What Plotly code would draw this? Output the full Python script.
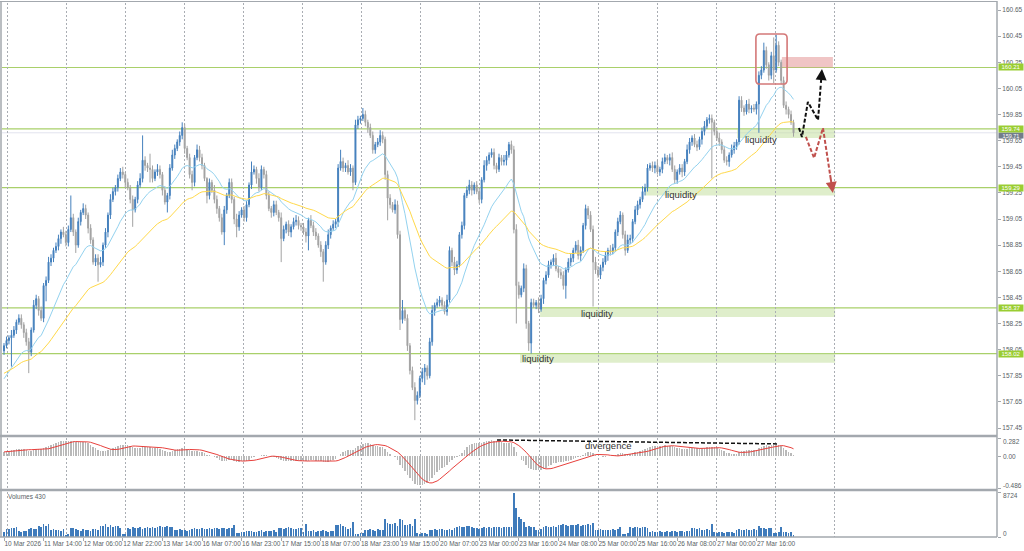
import plotly.graph_objects as go

W, H = 1024, 551

title_text = "USDJPY,H1  159.79 159.81 159.68 159.71"
macd_text = "MACD(12,26,9) 0.0457 0.0510"
volume_text = "Volumes 430"

first_open = 158.04
closes = [
    158.08, 158.12, 158.14, 158.16, 158.20, 158.26, 158.29, 158.24, 158.18, 158.11,
    158.03, 158.20, 158.39, 158.44, 158.35, 158.29, 158.54, 158.58, 158.72, 158.75,
    158.81, 158.84, 158.90, 158.95, 158.93, 158.87, 158.97, 159.06, 158.95, 158.85,
    159.03, 159.10, 159.13, 159.08, 158.98, 158.89, 158.72, 158.75, 158.70, 158.72,
    158.85, 158.95, 159.08, 159.20, 159.26, 159.29, 159.36, 159.41, 159.39, 159.33,
    159.29, 159.20, 159.12, 159.20, 159.31, 159.36, 159.50, 159.46, 159.44, 159.43,
    159.36, 159.41, 159.43, 159.39, 159.27, 159.18, 159.23, 159.44, 159.54, 159.59,
    159.64, 159.69, 159.75, 159.59, 159.52, 159.39, 159.33, 159.52, 159.58, 159.52,
    159.46, 159.36, 159.23, 159.33, 159.27, 159.20, 159.13, 159.06, 158.95, 159.12,
    159.23, 159.33, 159.20, 159.05, 158.99, 159.08, 159.12, 159.06, 159.16, 159.31,
    159.41, 159.43, 159.36, 159.29, 159.43, 159.39, 159.23, 159.13, 159.10, 159.16,
    159.10, 159.06, 158.90, 158.97, 159.01, 158.95, 158.99, 159.03, 159.04, 159.00,
    158.99, 158.95, 158.92, 159.04, 159.00, 158.95, 158.92, 158.85, 158.80, 158.72,
    158.85, 158.93, 158.98, 159.01, 159.03, 159.44, 159.49, 159.44, 159.46, 159.41,
    159.44, 159.33, 159.77, 159.81, 159.82, 159.85, 159.79, 159.75, 159.69, 159.58,
    159.62, 159.64, 159.69, 159.66, 159.39, 159.21, 159.16, 159.12, 159.16, 158.93,
    158.28, 158.35, 158.29, 158.08, 157.89, 157.76, 157.66, 157.70, 157.83, 157.88,
    157.91, 157.85, 158.11, 158.35, 158.39, 158.41, 158.43, 158.39, 158.34, 158.43,
    158.81, 158.72, 158.66, 158.70, 158.93, 159.00, 159.23, 159.27, 159.31, 159.27,
    159.31, 159.26, 159.20, 159.35, 159.46, 159.50, 159.54, 159.56, 159.46, 159.43,
    159.52, 159.49, 159.50, 159.54, 159.62, 159.58, 158.97, 158.54, 158.47, 158.52,
    158.67, 158.25, 158.10, 158.41, 158.39, 158.41, 158.36, 158.44, 158.58, 158.62,
    158.70, 158.72, 158.75, 158.67, 158.64, 158.62, 158.54, 158.66, 158.72, 158.75,
    158.81, 158.85, 158.77, 158.81, 159.00, 159.13, 159.08, 158.97, 158.72, 158.66,
    158.62, 158.68, 158.72, 158.77, 158.81, 158.80, 158.83, 158.95, 159.03, 159.08,
    158.93, 158.81, 158.89, 158.90, 159.03, 159.12, 159.16, 159.20, 159.26, 159.29,
    159.44, 159.46, 159.44, 159.46, 159.41, 159.43, 159.49, 159.52, 159.50, 159.52,
    159.43, 159.35, 159.41, 159.44, 159.41, 159.49, 159.58, 159.64, 159.67, 159.62,
    159.60, 159.66, 159.72, 159.76, 159.81, 159.82, 159.79, 159.72, 159.67, 159.64,
    159.58, 159.50, 159.49, 159.54, 159.58, 159.61, 159.64, 159.96, 159.90, 159.87,
    159.93, 159.89, 159.90, 159.89, 159.93, 160.15, 160.19, 160.34, 160.23, 160.15,
    160.30, 160.19, 160.38, 160.25, 160.11, 159.92, 159.89, 159.85, 159.79, 159.71,
]
upper_wick_pips = [
    2, 3, 2, 4, 3, 2, 3, 3, 2, 3,
    3, 2, 4, 3, 2, 3, 2, 3, 4, 3,
    2, 3, 3, 2, 4, 3, 3, 17, 3, 2,
    3, 2, 4, 3, 2, 3, 2, 3, 3, 4,
    2, 3, 2, 4, 3, 2, 3, 3, 4, 2,
    3, 2, 3, 2, 3, 4, 19, 3, 2, 11,
    3, 2, 4, 3, 2, 3, 2, 3, 4, 3,
    2, 3, 4, 3, 2, 3, 3, 2, 4, 3,
    3, 2, 1, 3, 2, 4, 3, 2, 3, 3,
    2, 3, 3, 2, 4, 3, 2, 3, 3, 2,
    8, 3, 2, 4, 3, 2, 3, 3, 2, 3,
    3, 2, 4, 3, 2, 3, 2, 3, 4, 3,
    2, 3, 3, 2, 4, 3, 3, 2, 3, 2,
    3, 4, 2, 3, 2, 3, 9, 3, 2, 4,
    3, 2, 4, 3, 2, 5, 3, 2, 3, 3,
    2, 3, 4, 3, 2, 3, 3, 2, 4, 3,
    3, 8, 2, 3, 2, 3, 4, 3, 2, 3,
    3, 2, 3, 4, 2, 3, 3, 2, 3, 4,
    3, 2, 4, 3, 2, 3, 2, 3, 4, 3,
    2, 3, 3, 2, 4, 3, 2, 3, 3, 2,
    3, 2, 4, 3, 2, 3, 3, 4, 3, 2,
    4, 3, 2, 3, 3, 2, 4, 3, 2, 3,
    3, 2, 3, 4, 2, 3, 3, 2, 3, 4,
    2, 3, 4, 3, 2, 3, 2, 3, 3, 4,
    3, 2, 3, 3, 2, 4, 3, 2, 3, 3,
    2, 3, 4, 3, 2, 3, 3, 2, 4, 3,
    3, 2, 3, 3, 4, 2, 3, 3, 2, 3,
    4, 3, 2, 3, 3, 2, 4, 3, 2, 3,
    3, 2, 3, 4, 2, 3, 3, 2, 3, 4,
    2, 3, 3, 2, 4, 3, 2, 3, 3, 2,
    3, 4, 2, 3, 2, 3, 3, 6, 3, 2,
    3, 14, 8, 3, 2, 3, 3, 2, 3, 2,
]
lower_wick_pips = [
    3, 2, 3, 22, 2, 3, 2, 3, 4, 3,
    16, 3, 2, 3, 4, 2, 3, 12, 2, 3,
    3, 2, 3, 4, 2, 3, 3, 2, 3, 6,
    2, 3, 2, 3, 4, 3, 2, 3, 13, 2,
    3, 2, 4, 3, 2, 3, 3, 2, 3, 4,
    2, 3, 13, 2, 3, 2, 3, 4, 3, 10,
    3, 2, 3, 3, 4, 2, 8, 3, 2, 3,
    2, 3, 3, 4, 2, 3, 6, 3, 2, 3,
    3, 2, 6, 3, 2, 3, 4, 3, 2, 10,
    3, 2, 3, 4, 8, 3, 2, 3, 3, 2,
    3, 2, 4, 3, 2, 3, 3, 2, 4, 3,
    2, 3, 18, 2, 3, 3, 4, 2, 3, 3,
    3, 2, 5, 11, 2, 3, 3, 2, 4, 15,
    2, 3, 3, 2, 3, 4, 2, 3, 3, 2,
    3, 6, 2, 3, 3, 2, 3, 4, 2, 3,
    3, 2, 3, 3, 4, 17, 3, 2, 3, 3,
    8, 3, 2, 4, 3, 2, 15, 3, 2, 3,
    10, 3, 2, 3, 4, 2, 3, 3, 2, 3,
    2, 3, 4, 3, 2, 3, 3, 2, 3, 4,
    3, 2, 3, 3, 2, 4, 3, 2, 3, 3,
    2, 3, 3, 4, 2, 3, 3, 29, 3, 2,
    3, 4, 6, 8, 2, 3, 3, 2, 4, 3,
    2, 3, 3, 2, 4, 3, 3, 10, 2, 3,
    3, 2, 3, 4, 2, 3, 3, 2, 34, 3,
    2, 3, 3, 2, 4, 3, 2, 3, 3, 2,
    3, 4, 2, 3, 3, 2, 4, 3, 2, 3,
    3, 2, 3, 4, 2, 3, 3, 2, 3, 4,
    2, 3, 3, 2, 4, 3, 2, 3, 3, 2,
    3, 2, 4, 3, 2, 3, 43, 3, 2, 3,
    3, 2, 3, 4, 2, 3, 3, 2, 3, 3,
    2, 3, 3, 2, 4, 22, 3, 2, 3, 4,
    3, 10, 2, 3, 3, 2, 4, 3, 2, 3,
]
volumes = [
    900, 1600, 1500, 1700, 1650, 1870, 1100, 1000, 1200, 1100,
    1600, 1700, 1500, 1600, 2200, 2000, 2450, 2100, 2500, 1400,
    1500, 1300, 1400, 1200, 1500, 450, 500, 1700, 1800, 1600,
    1400, 1200, 1500, 1300, 1400, 1100, 1500, 1600, 1300, 2200,
    2100, 2500, 2000, 2300, 1900, 2200, 2100, 1700, 600, 500,
    1800, 1600, 1900, 1700, 1800, 1900, 1600, 1700, 2000, 1800,
    1900, 1700, 2000, 2100, 1900, 2000, 2200, 1900, 2000, 1400,
    1300, 1500, 1400, 1300, 1200, 1400, 1600, 1700, 1500, 1600,
    1700, 1600, 1500, 1700, 1600, 1800, 1700, 1600, 1700, 1800,
    1600, 1700, 1800, 2300, 800, 700, 900, 1000, 1100, 1200,
    1100, 900, 1000, 1200, 1300, 1000, 1100, 1200, 1100, 1300,
    1000, 1700, 1800, 1600, 1700, 1900, 1800, 1600, 1500, 1700,
    1800, 1000, 2600, 1200, 1100, 1300, 1000, 1200, 1100, 1300,
    1200, 1000, 1100, 1200, 2400, 2300, 2500, 2200, 2000, 1600,
    1700, 3000, 600, 500, 700, 800, 1400, 1300, 1500, 1400,
    1200, 1500, 1400, 1300, 3400, 2700, 2600, 2500, 2800, 2200,
    3500, 3200, 2400, 2300, 2500, 2200, 3500, 700, 600, 800,
    700, 600, 1400, 1300, 1500, 1400, 1600, 1500, 1400, 1300,
    1500, 1400, 1800, 2000, 2100, 1900, 2000, 2200, 2100, 1900,
    1700, 1800, 1600, 1700, 1900, 1800, 1900, 1800, 1900, 2000,
    1900, 1800, 1900, 2000, 2000, 1900, 8500, 5600, 3900, 3500,
    3000, 2000, 2100, 1900, 2000, 1400, 1300, 1500, 2000, 2100,
    1900, 2000, 2100, 1900, 2400, 2300, 2500, 2400, 2200, 2300,
    2400, 2300, 2500, 2200, 2400, 2300, 2600, 2400, 2800, 1400,
    1300, 1500, 1400, 1300, 1400, 1300, 1500, 1400, 1600, 1900,
    500, 600, 700, 1900, 1800, 2000, 1900, 1800, 2000, 1900,
    1800, 1000, 1100, 900, 1000, 1200, 1000, 900, 1100, 1000,
    1200, 1100, 1000, 1200, 1100, 1000, 1100, 1200, 1700, 1800,
    1600, 1700, 1400, 1300, 1500, 1400, 2500, 900, 800, 1000,
    900, 800, 900, 1000, 900, 800, 1400, 1500, 1300, 1400,
    1500, 1300, 1400, 1500, 1400, 2200, 1700, 1800, 1600, 1700,
    1800, 800, 700, 900, 2000, 900, 1000, 800, 900, 430,
]

time_labels = [
    "10 Mar 2026", "11 Mar 14:00", "12 Mar 06:00", "12 Mar 22:00", "13 Mar 14:00",
    "16 Mar 07:00", "16 Mar 23:00", "17 Mar 15:00", "18 Mar 07:00", "18 Mar 23:00",
    "19 Mar 15:00", "20 Mar 07:00", "23 Mar 00:00", "23 Mar 16:00", "24 Mar 08:00",
    "25 Mar 00:00", "25 Mar 16:00", "26 Mar 08:00", "27 Mar 00:00", "27 Mar 16:00",
]
LABEL_STEP = 16

price_tick_values = [157.45, 157.65, 157.85, 158.05, 158.25, 158.45, 158.65, 158.85,
                     159.05, 159.25, 159.45, 159.65, 159.85, 160.05, 160.25, 160.45, 160.65]
level_lines = [160.21, 159.74, 159.29, 158.37, 158.02]
last_price = 159.71
macd_scale = [0.282, 0.00, -0.486]
macd_scale_text = ["0.282", "0.00", "-0.486"]
volume_scale = [8724, 0]

# moving averages / MACD settings (seeds = values at the left edge of the chart)
EMA_FAST, EMA_SLOW = 20, 50
ema_fast_seed, ema_slow_seed = 157.80, 157.86
macd_fast_seed, macd_slow_seed = 157.92, 157.86

# drawings (bar index, price)
liquidity_zones = [(296.2, 335.8, 159.74, 159.67), (259.0, 335.8, 159.29, 159.23),
                   (216.6, 335.8, 158.37, 158.30), (208.5, 335.8, 158.02, 157.95)]
liquidity_labels = [(305.9, 159.655), (273.7, 159.24), (239.6, 158.33), (215.8, 157.985)]
resistance_zone = (314.3, 334.9, 160.29, 160.21)
highlight_box = (303.8, 316.4, 160.083, 160.466)
black_path_x = [321.2, 322.4, 324.8, 328.9, 330.5]
black_path_y = [159.747, 159.678, 159.946, 159.808, 160.198]
red_path_x = [324.0, 327.3, 330.9, 334.9]
red_path_y = [159.678, 159.517, 159.747, 159.249]
divergence_x = [199.2, 312.7]
divergence_y = [0.252, 0.191]
divergence_label = (244.0, 0.16)

N = len(closes)
assert N == 320 and len(upper_wick_pips) == N and len(lower_wick_pips) == N and len(volumes) == N

bars = list(range(N))
opens = [first_open] + closes[:-1]
highs = [max(o, c) + u / 100 for o, c, u in zip(opens, closes, upper_wick_pips)]
lows = [min(o, c) - l / 100 for o, c, l in zip(opens, closes, lower_wick_pips)]


def ema(values, period, seed):
    a = 2.0 / (period + 1)
    out, e = [], seed
    for v in values:
        e = e + a * (v - e)
        out.append(e)
    return out


ma_fast = ema(closes, EMA_FAST, ema_fast_seed)
ma_slow = ema(closes, EMA_SLOW, ema_slow_seed)
e12 = ema(closes, 12, macd_fast_seed)
e26 = ema(closes, 26, macd_slow_seed)
macd = [a - b for a, b in zip(e12, e26)]
signal = [sum(macd[max(0, i - 8):i + 1]) / len(macd[max(0, i - 8):i + 1]) for i in range(N)]

# ---- layout geometry (pixels) ----
PLOT_L, PLOT_R = 2, 997
PX_PER_BAR, BAR0_X = 2.475, 4
X_RANGE = [(PLOT_L - BAR0_X) / PX_PER_BAR, (PLOT_R - BAR0_X) / PX_PER_BAR]
PRICE_TOP, PRICE_BOT = 3, 434
MACD_TOP, MACD_BOT = 438, 488
VOL_TOP, VOL_BOT = 492, 537
PX_PER_PRICE = 130.6
PRICE_RANGE = [157.45 - (PRICE_BOT - 428) / PX_PER_PRICE, 160.65 + (10 - PRICE_TOP) / PX_PER_PRICE]


def py(p):
    return 1 - p / H


def px(p):
    return p / W


FONT = "Liberation Sans, Arial, sans-serif"
AXIS_COLOR = "#5a5f66"
BORDER = "#a3a8ae"
BULL = "#4580bd"
BEAR = "#a2a2a2"
LEVEL = "#a9d06a"
ZONE = "rgba(196,224,160,0.55)"

grid_positions = [1.6 + 23.84 * k for k in range(15)]

fig = go.Figure()

fig.add_trace(go.Candlestick(
    x=bars, open=opens, high=highs, low=lows, close=closes,
    increasing=dict(line=dict(color=BULL, width=1), fillcolor=BULL),
    decreasing=dict(line=dict(color=BEAR, width=1), fillcolor=BEAR),
    whiskerwidth=0, xaxis="x", yaxis="y", showlegend=False, hoverinfo="skip"))
fig.add_trace(go.Scatter(x=bars, y=ma_fast, mode="lines", line=dict(color="#93d2ef", width=1),
                         xaxis="x", yaxis="y", showlegend=False, hoverinfo="skip"))
fig.add_trace(go.Scatter(x=bars, y=ma_slow, mode="lines", line=dict(color="#ffd94a", width=1),
                         xaxis="x", yaxis="y", showlegend=False, hoverinfo="skip"))

# forecast paths
for xs, ys, col in [(black_path_x, black_path_y, "#111111"), (red_path_x, red_path_y, "#c0504d")]:
    tail_x = xs[-1] - 0.3 * (xs[-1] - xs[-2])
    tail_y = ys[-1] - 0.3 * (ys[-1] - ys[-2])
    fig.add_trace(go.Scatter(x=xs[:-1] + [tail_x], y=ys[:-1] + [tail_y], mode="lines",
                             line=dict(color=col, width=2, dash="4px,2px"),
                             xaxis="x", yaxis="y", showlegend=False, hoverinfo="skip"))
    fig.add_annotation(x=xs[-1], y=ys[-1], ax=tail_x, ay=tail_y, xref="x", yref="y",
                       axref="x", ayref="y", text="", showarrow=True, arrowhead=2,
                       arrowsize=1.1, arrowwidth=2, arrowcolor=col, standoff=0)

# MACD
fig.add_trace(go.Bar(x=bars, y=macd, width=0.6, marker=dict(color="#b9b9b9", line=dict(width=0)),
                     xaxis="x2", yaxis="y2", showlegend=False, hoverinfo="skip"))
fig.add_trace(go.Scatter(x=bars, y=signal, mode="lines", line=dict(color="#e8403c", width=1),
                         xaxis="x2", yaxis="y2", showlegend=False, hoverinfo="skip"))
fig.add_trace(go.Scatter(x=divergence_x, y=divergence_y, mode="lines",
                         line=dict(color="#111111", width=1.5, dash="4px,2px"),
                         xaxis="x2", yaxis="y2", showlegend=False, hoverinfo="skip"))

# Volumes
fig.add_trace(go.Bar(x=bars, y=volumes, width=0.7, marker=dict(color="#3f7bbb", line=dict(width=0)),
                     xaxis="x3", yaxis="y3", showlegend=False, hoverinfo="skip"))

shapes = []
for x0, x1, y0, y1 in liquidity_zones:
    shapes.append(dict(type="rect", xref="x", yref="y", x0=x0, x1=x1, y0=y0, y1=y1,
                       fillcolor=ZONE, line=dict(width=0), layer="below"))
x0, x1, y0, y1 = resistance_zone
shapes.append(dict(type="rect", xref="x", yref="y", x0=x0, x1=x1, y0=y0, y1=y1,
                   fillcolor="rgba(228,150,150,0.55)", line=dict(width=0), layer="below"))
shapes.append(dict(type="line", xref="paper", yref="y", x0=px(PLOT_L), x1=px(PLOT_R),
                   y0=last_price, y1=last_price, line=dict(color="#e2e3ee", width=1), layer="below"))
for lv in level_lines:
    shapes.append(dict(type="line", xref="paper", yref="y", x0=px(PLOT_L), x1=px(PLOT_R),
                       y0=lv, y1=lv, line=dict(color=LEVEL, width=1.2), layer="below"))
# rounded highlight box
bx0, bx1, by0, by1 = highlight_box
rx, ry = 1.6, 0.03
path = (f"M {bx0+rx},{by1} L {bx1-rx},{by1} Q {bx1},{by1} {bx1},{by1-ry} L {bx1},{by0+ry} "
        f"Q {bx1},{by0} {bx1-rx},{by0} L {bx0+rx},{by0} Q {bx0},{by0} {bx0},{by0+ry} "
        f"L {bx0},{by1-ry} Q {bx0},{by1} {bx0+rx},{by1} Z")
shapes.append(dict(type="path", xref="x", yref="y", path=path,
                   line=dict(color="#d47878", width=1.6)))
# frame
shapes += [
    dict(type="line", xref="paper", yref="paper", x0=0, x1=px(PLOT_R), y0=py((PRICE_BOT + MACD_TOP) / 2),
         y1=py((PRICE_BOT + MACD_TOP) / 2), line=dict(color=BORDER, width=2.5)),
    dict(type="line", xref="paper", yref="paper", x0=0, x1=px(PLOT_R), y0=py((MACD_BOT + VOL_TOP) / 2),
         y1=py((MACD_BOT + VOL_TOP) / 2), line=dict(color=BORDER, width=2.5)),
    dict(type="line", xref="paper", yref="paper", x0=0, x1=px(PLOT_R), y0=py(VOL_BOT), y1=py(VOL_BOT),
         line=dict(color=BORDER, width=1.5)),
    dict(type="line", xref="paper", yref="paper", x0=0, x1=px(PLOT_R), y0=py(1.5), y1=py(1.5),
         line=dict(color=BORDER, width=1)),
    dict(type="line", xref="paper", yref="paper", x0=px(PLOT_R), x1=px(PLOT_R), y0=py(1), y1=py(VOL_BOT),
         line=dict(color=BORDER, width=1.5)),
    dict(type="line", xref="paper", yref="paper", x0=px(1), x1=px(1), y0=py(1), y1=py(VOL_BOT),
         line=dict(color=BORDER, width=1.5)),
]

small = dict(size=6.5, color=AXIS_COLOR, family=FONT)
annotations = [
    dict(x=px(6), y=py(7), xref="paper", yref="paper", text=title_text, showarrow=False,
         xanchor="left", yanchor="middle", font=small),
    dict(x=px(6), y=py(441), xref="paper", yref="paper", text=macd_text, showarrow=False,
         xanchor="left", yanchor="middle", font=small),
    dict(x=px(6), y=py(496), xref="paper", yref="paper", text=volume_text, showarrow=False,
         xanchor="left", yanchor="middle", font=small),
]
for (lx, ly) in liquidity_labels:
    annotations.append(dict(x=lx, y=ly, xref="x", yref="y", text="liquidity", showarrow=False,
                            font=dict(size=9.5, color="#333333", family=FONT)))
annotations.append(dict(x=divergence_label[0], y=divergence_label[1], xref="x2", yref="y2",
                        text="divergence", showarrow=False,
                        font=dict(size=9.5, color="#333333", family=FONT)))
# current price box (drawn first so the level box sits on top of it)
annotations.append(dict(x=px(998), y=py(131.8), xref="paper", yref="paper", text=f"{last_price:.2f}",
                        showarrow=False, xanchor="left", yanchor="top", bgcolor="#737d8a",
                        width=24, height=5, borderpad=0, valign="middle",
                        font=dict(size=5.5, color="white", family=FONT)))
for lv in level_lines:
    annotations.append(dict(x=px(998), y=lv, xref="paper", yref="y", text=f"{lv:.2f}", showarrow=False,
                            xanchor="left", yanchor="middle", bgcolor="#9acd32", width=24, height=6,
                            borderpad=0, valign="middle",
                            font=dict(size=6, color="white", family=FONT)))
macd_label_px = [441, 456, 485]
for t, yy in zip(macd_scale_text, macd_label_px):
    annotations.append(dict(x=px(1001), y=py(yy), xref="paper", yref="paper", text=t,
                            showarrow=False, xanchor="left", yanchor="middle", font=small))
vol_label_px = [495, 533]
for v, yy in zip(volume_scale, vol_label_px):
    annotations.append(dict(x=px(1001), y=py(yy), xref="paper", yref="paper", text=str(v),
                            showarrow=False, xanchor="left", yanchor="middle", font=small))

minor_grid = dict(tickmode="array", tickvals=grid_positions, showgrid=True, gridcolor="#a9adb3",
                  griddash="2px,2px", gridwidth=1, ticks="")
xdom = [px(PLOT_L), px(PLOT_R)]
common_x = dict(domain=xdom, range=X_RANGE, showgrid=False, zeroline=False, showline=False,
                minor=minor_grid, fixedrange=True, automargin=False)
common_y = dict(side="right", showgrid=False, zeroline=False, fixedrange=True, automargin=False,
                ticks="outside", ticklen=3, tickcolor=BORDER, tickmode="array")

fig.update_layout(
    width=W, height=H, margin=dict(l=0, r=0, t=0, b=0, pad=0), autosize=False,
    paper_bgcolor="white", plot_bgcolor="white", showlegend=False, boxgap=0.45, bargap=0,
    font=dict(family=FONT, size=6.5, color=AXIS_COLOR),
    xaxis=dict(common_x, anchor="y", showticklabels=False, rangeslider=dict(visible=False)),
    xaxis2=dict(common_x, anchor="y2", showticklabels=False, matches="x"),
    xaxis3=dict(common_x, anchor="y3", matches="x", tickmode="array",
                tickvals=[LABEL_STEP * k for k in range(len(time_labels))], ticktext=time_labels,
                ticks="outside", ticklen=3, tickcolor=BORDER, ticklabelposition="outside right",
                tickangle=0, tickfont=small),
    yaxis=dict(common_y, domain=[py(PRICE_BOT), py(PRICE_TOP)], range=PRICE_RANGE, anchor="x",
               tickvals=price_tick_values, ticktext=[f"{v:.2f}" for v in price_tick_values],
               tickfont=small),
    yaxis2=dict(common_y, domain=[py(MACD_BOT), py(MACD_TOP)], range=[macd_scale[2], macd_scale[0]],
                anchor="x2", tickvals=macd_scale, showticklabels=False),
    yaxis3=dict(common_y, domain=[py(VOL_BOT), py(VOL_TOP)], range=[0, volume_scale[0]],
                anchor="x3", tickvals=volume_scale, showticklabels=False),
    shapes=shapes, annotations=annotations,
)

fig.write_html("out.html", config={"displayModeBar": False, "staticPlot": True},
               post_script="document.body.style.margin='0';document.body.style.overflow='hidden';")
